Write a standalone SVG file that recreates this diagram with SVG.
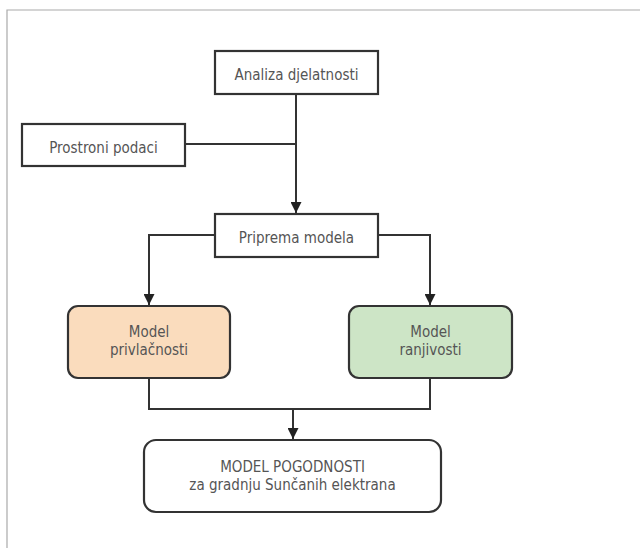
<svg xmlns="http://www.w3.org/2000/svg" width="640" height="548" viewBox="0 0 640 548">
<defs>
<style>
.box{fill:#fff;stroke:#333;stroke-width:2.2}
.t{font-family:"DejaVu Sans Condensed","DejaVu Sans",sans-serif;font-size:15px;fill:#555;text-anchor:middle}
.c{fill:none;stroke:#333;stroke-width:2}
</style>
<marker id="ah" viewBox="0 0 10 10" refX="10" refY="5" markerWidth="5.5" markerHeight="5.5" markerUnits="strokeWidth" orient="auto">
<path d="M0,0 L10,5 L0,10 z" fill="#222"/>
</marker>
</defs>
<rect width="640" height="548" fill="#fff"/>
<path d="M7,548 V10 H640" fill="none" stroke="#aaa" stroke-width="1.2"/>
<g id="connectors">
<path class="c" d="M296,94 V213" marker-end="url(#ah)"/>
<path class="c" d="M185,144 H296"/>
<path class="c" d="M215,235 H149 V305" marker-end="url(#ah)"/>
<path class="c" d="M378,235 H430 V305" marker-end="url(#ah)"/>
<path class="c" d="M149,378 V409 H430 V378"/>
<path class="c" d="M293,409 V439" marker-end="url(#ah)"/>
</g>
<g id="analiza">
<rect class="box" x="215" y="51" width="163" height="43"/>
<text class="t" x="296.5" y="80">Analiza djelatnosti</text>
</g>
<g id="prostorni">
<rect class="box" x="22" y="124" width="163" height="42"/>
<text class="t" x="103.5" y="153">Prostroni podaci</text>
</g>
<g id="priprema">
<rect class="box" x="215" y="214" width="163" height="43"/>
<text class="t" x="296.5" y="243">Priprema modela</text>
</g>
<g id="privlacnost">
<rect class="box" x="68" y="306" width="162" height="72" rx="10" style="fill:#fadcbd"/>
<text class="t" x="149" y="337">Model</text>
<text class="t" x="149" y="355">privlačnosti</text>
</g>
<g id="ranjivost">
<rect class="box" x="349" y="306" width="163" height="72" rx="10" style="fill:#cde5c6"/>
<text class="t" x="430.5" y="337">Model</text>
<text class="t" x="430.5" y="355">ranjivosti</text>
</g>
<g id="pogodnost">
<rect class="box" x="144" y="440" width="297" height="72" rx="12"/>
<text class="t" x="292.5" y="472">MODEL POGODNOSTI</text>
<text class="t" x="292.5" y="490">za gradnju Sunčanih elektrana</text>
</g>
</svg>
